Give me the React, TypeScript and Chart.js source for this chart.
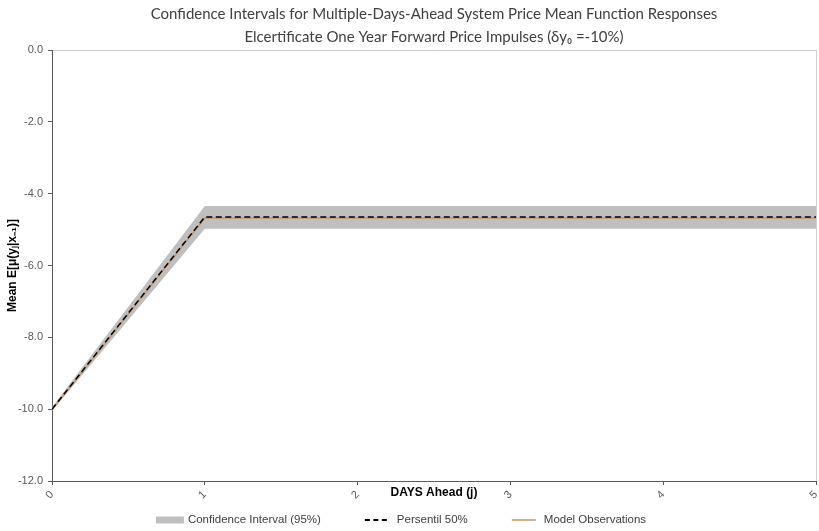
import React, { useEffect, useRef } from "react";
import { Chart, registerables } from "chart.js";

Chart.register(...registerables);

// ---- data ----
const days = [0, 1, 2, 3, 4, 5];
const ciUpper = [-9.95, -4.34, -4.34, -4.34, -4.34, -4.34];
const ciLower = [-10.05, -4.98, -4.98, -4.98, -4.98, -4.98];
const median50 = [-10.0, -4.65, -4.65, -4.65, -4.65, -4.65];
const modelObs = [-10.02, -4.68, -4.68, -4.68, -4.68, -4.68];

const yTicks = [0, -2, -4, -6, -8, -10, -12];
const titleLines = [
  "Confidence Intervals for Multiple-Days-Ahead System Price Mean Function Responses",
  "Elcertificate One Year Forward Price Impulses (\u03B4y\u2080 =-10%)",
];
const xTitle = "DAYS Ahead (j)";
const yTitle = "Mean E[\u03BC(y\u2C7C|x\u208B\u2081)]";
const legendLabels = ["Confidence Interval (95%)", "Persentil 50%", "Model Observations"];

const BAND = "#bfbfbf";
const MEDIAN = "#000000";
const MODEL = "#c8946a";
const AXIS = "#595959";
const TEXT = "#404040";

const pts = (ys: number[]) => days.map((d, i) => ({ x: d, y: ys[i] }));

const legendPlugin = {
  id: "customLegend",
  afterDraw(chart: any) {
    const ctx = chart.ctx as CanvasRenderingContext2D;
    const font = '11.5px "Liberation Sans", Arial, sans-serif';
    ctx.save();
    ctx.font = font;
    const sym = 28;
    const symGap = 4;
    const itemGap = 44;
    const widths = legendLabels.map((t) => sym + symGap + ctx.measureText(t).width);
    const total = widths.reduce((a, b) => a + b, 0) + itemGap * (widths.length - 1);
    let x = 401 - total / 2;
    const y = 520;
    legendLabels.forEach((t, i) => {
      if (i === 0) {
        ctx.fillStyle = BAND;
        ctx.fillRect(x, y - 3.5, sym, 7);
      } else {
        ctx.beginPath();
        ctx.strokeStyle = i === 1 ? MEDIAN : MODEL;
        ctx.lineWidth = i === 1 ? 2 : 1.5;
        ctx.setLineDash(i === 1 ? [5, 3.5] : []);
        ctx.moveTo(x, y);
        ctx.lineTo(x + sym - 4, y);
        ctx.stroke();
        ctx.setLineDash([]);
      }
      ctx.fillStyle = TEXT;
      ctx.textBaseline = "middle";
      ctx.textAlign = "left";
      ctx.fillText(t, x + sym + symGap, y);
      x += widths[i] + itemGap;
    });
    ctx.restore();
  },
};

export default function App() {
  const ref = useRef<HTMLCanvasElement | null>(null);
  useEffect(() => {
    if (!ref.current) return;
    const chart = new Chart(ref.current, {
      type: "line",
      data: {
        datasets: [
          {
            label: legendLabels[0],
            data: pts(ciUpper),
            borderWidth: 0,
            borderColor: BAND,
            backgroundColor: BAND,
            pointRadius: 0,
            fill: "+1",
            order: 10,
          },
          {
            label: "ci-lower",
            data: pts(ciLower),
            borderWidth: 0,
            borderColor: BAND,
            backgroundColor: BAND,
            pointRadius: 0,
            fill: false,
            order: 11,
          },
          {
            label: legendLabels[2],
            data: pts(modelObs),
            borderWidth: 1.5,
            borderColor: MODEL,
            pointRadius: 0,
            fill: false,
            order: 2,
          },
          {
            label: legendLabels[1],
            data: pts(median50),
            borderWidth: 1.5,
            borderColor: MEDIAN,
            borderDash: [6, 3.5],
            pointRadius: 0,
            fill: false,
            order: 1,
          },
        ],
      },
      options: {
        animation: false,
        responsive: false,
        devicePixelRatio: 1,
        layout: { padding: { top: 0, left: 0, right: 3, bottom: 0 } },
        plugins: {
          legend: { display: false },
          tooltip: { enabled: false },
          title: {
            display: true,
            text: titleLines,
            fullSize: false,
            color: TEXT,
            font: { family: "Lato, 'Open Sans', sans-serif", size: 15, weight: "normal", lineHeight: 1.5 },
            padding: { top: 3, bottom: 2 },
          },
        },
        scales: {
          x: {
            type: "linear",
            min: 0,
            max: 5,
            afterFit: (s: any) => {
              s.height = 50;
              s.paddingLeft = 0;
              s.paddingRight = 0;
            },
            ticks: {
              stepSize: 1,
              minRotation: 45,
              maxRotation: 45,
              padding: 3,
              color: AXIS,
              font: { family: "'Liberation Sans', Arial, sans-serif", size: 11 },
              callback: (v: any) => String(v),
            },
            grid: {
              drawOnChartArea: true,
              color: (c: any) => (c.tick && c.tick.value === 5 ? "#d0d0d0" : "rgba(0,0,0,0)"),
              tickColor: AXIS,
              tickLength: 4,
            },
            border: { color: AXIS, width: 1 },
            title: {
              display: true,
              text: xTitle,
              color: "#000000",
              font: { family: "'Liberation Sans', Arial, sans-serif", size: 12, weight: "bold", lineHeight: 1.2 },
              padding: { top: 0, bottom: 31 },
            },
          },
          y: {
            type: "linear",
            min: -12,
            max: 0,
            afterFit: (s: any) => {
              s.width = 52;
            },
            afterBuildTicks: (s: any) => {
              s.ticks = yTicks.map((v) => ({ value: v }));
            },
            ticks: {
              padding: 5,
              color: AXIS,
              font: { family: "'Liberation Sans', Arial, sans-serif", size: 11 },
              callback: (v: any) => Number(v).toFixed(1),
            },
            grid: {
              drawOnChartArea: true,
              color: (c: any) => (c.tick && c.tick.value === 0 ? "#d0d0d0" : "rgba(0,0,0,0)"),
              tickColor: AXIS,
              tickLength: 4,
            },
            border: { color: AXIS, width: 1 },
            title: {
              display: true,
              text: yTitle,
              color: "#000000",
              font: { family: "'Liberation Sans', Arial, sans-serif", size: 12, weight: "bold", lineHeight: 1.2 },
              padding: { top: 5, bottom: 0 },
            },
          },
        },
      },
      plugins: [legendPlugin],
    });
    return () => chart.destroy();
  }, []);

  return (
    <div style={{ position: "absolute", left: 0, top: 0, width: 819, height: 531, background: "#fff" }}>
      <canvas ref={ref} width={819} height={531} style={{ display: "block" }} />
    </div>
  );
}
